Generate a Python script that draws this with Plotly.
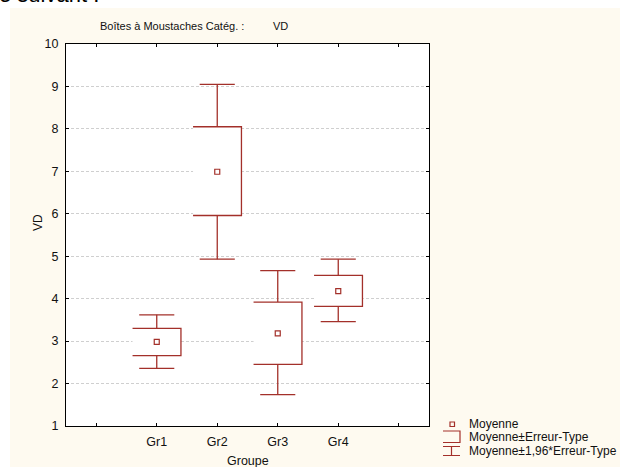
import plotly.graph_objects as go

# ---- data ----
groups = ["Gr1", "Gr2", "Gr3", "Gr4"]
group_pos = [1, 2, 3, 4]
tick_vals = [0, 1, 2, 3, 4, 5]
tick_text = ["", "Gr1", "Gr2", "Gr3", "Gr4", ""]
means = [2.98, 6.99, 3.18, 4.18]
se_upper = [3.30, 8.05, 3.92, 4.55]
se_lower = [2.66, 5.96, 2.45, 3.82]
ci_upper = [3.62, 9.05, 4.66, 4.93]
ci_lower = [2.36, 4.93, 1.74, 3.46]
y_ticks = [1, 2, 3, 4, 5, 6, 7, 8, 9, 10]

RED = "#A3302A"
CREAM = "#FEFAF0"
FONT = "Liberation Sans, Arial, sans-serif"
W, H = 620, 467
L, R, T, B = 66, 429, 44, 426  # plot area in pixels

def px(x):
    return (x - L) / (R - L)

def py(y):
    return (B - y) / (B - T)

box_hw = 0.40
cap_hw = 0.29

fig = go.Figure()

# white fills for boxes (hide gridlines)
for xc, top, bot in zip(group_pos, se_upper, se_lower):
    fig.add_trace(go.Scatter(
        x=[xc - box_hw, xc + box_hw, xc + box_hw, xc - box_hw, xc - box_hw],
        y=[top, top, bot, bot, top], mode="lines", fill="toself",
        fillcolor="white", line=dict(width=0), hoverinfo="skip", showlegend=False))

# box outlines open on the left, whiskers & caps
for xc, top, bot, hi, lo in zip(group_pos, se_upper, se_lower, ci_upper, ci_lower):
    fig.add_trace(go.Scatter(
        x=[xc - box_hw, xc + box_hw, xc + box_hw, xc - box_hw],
        y=[top, top, bot, bot], mode="lines",
        line=dict(color=RED, width=1.3), showlegend=False))
    fig.add_trace(go.Scatter(
        x=[xc, xc, None, xc - cap_hw, xc + cap_hw, None,
           xc, xc, None, xc - cap_hw, xc + cap_hw],
        y=[top, hi, None, hi, hi, None, bot, lo, None, lo, lo],
        mode="lines", line=dict(color=RED, width=1.3), showlegend=False))

# means
fig.add_trace(go.Scatter(
    x=group_pos, y=means, mode="markers",
    marker=dict(symbol="square-open", size=5, color=RED, line=dict(width=1.2, color=RED)),
    showlegend=False))

shapes = []
# white page strips around the cream panel (top and left)
shapes.append(dict(type="rect", xref="paper", yref="paper",
                   x0=px(-5), x1=px(W + 5), y0=py(8), y1=py(-5),
                   fillcolor="white", line=dict(width=0), layer="below"))
shapes.append(dict(type="rect", xref="paper", yref="paper",
                   x0=px(-5), x1=px(10), y0=py(H + 5), y1=py(-5),
                   fillcolor="white", line=dict(width=0), layer="below"))

# legend symbols
shapes.append(dict(type="rect", xref="paper", yref="paper",
                   x0=px(450), x1=px(454.5), y0=py(426.5), y1=py(422),
                   line=dict(color=RED, width=1.2), fillcolor="rgba(0,0,0,0)"))
shapes.append(dict(type="path", xref="paper", yref="paper",
                   path=f"M {px(443)},{py(431)} L {px(460)},{py(431)} L {px(460)},{py(442.5)} L {px(443)},{py(442.5)}",
                   line=dict(color=RED, width=1.2)))
shapes.append(dict(type="path", xref="paper", yref="paper",
                   path=(f"M {px(443)},{py(446.5)} L {px(460)},{py(446.5)} "
                         f"M {px(451.5)},{py(446.5)} L {px(451.5)},{py(455.5)} "
                         f"M {px(443)},{py(455.5)} L {px(460)},{py(455.5)}"),
                   line=dict(color=RED, width=1.2)))

annotations = []
def ann(text, x, y, size=11, xanchor="left", yanchor="middle", angle=0, color="#111111"):
    annotations.append(dict(text=text, x=px(x), y=py(y), xref="paper", yref="paper",
                            showarrow=False, xanchor=xanchor, yanchor=yanchor,
                            textangle=angle, font=dict(family=FONT, size=size, color=color)))

ann("e suivant :", -3, 9, size=22, yanchor="bottom", color="#000000")
ann("Boîtes à Moustaches Catég. :", 98, 26)
ann("VD", 271, 26)
ann("VD", 38, 223, size=12, xanchor="center", angle=-90)
ann("Groupe", 248, 461, size=12.5, xanchor="center")
ann("Moyenne", 467, 424, size=12)
ann("Moyenne±Erreur-Type", 467, 437, size=12)
ann("Moyenne±1,96*Erreur-Type", 467, 451, size=12)

fig.update_layout(
    width=W, height=H,
    margin=dict(l=L, r=W - R, t=T, b=H - B, pad=0),
    paper_bgcolor=CREAM, plot_bgcolor="white",
    shapes=shapes, annotations=annotations, showlegend=False,
    font=dict(family=FONT, size=11, color="#111111"),
)
fig.update_xaxes(
    range=[-0.5, 5.5], tickvals=tick_vals, ticktext=tick_text,
    showgrid=False, zeroline=False, showline=True, linecolor="black", linewidth=1,
    mirror="ticks", ticks="inside", ticklen=3, tickcolor="black",
    ticklabelstandoff=4, tickfont=dict(size=12.5))
fig.update_yaxes(
    range=[1, 10], tickvals=y_ticks,
    showgrid=True, gridcolor="#CFCFCF", griddash="3px,2px", gridwidth=1,
    zeroline=False, showline=True, linecolor="black", linewidth=1,
    mirror="ticks", ticks="inside", ticklen=3, tickcolor="black",
    ticklabelstandoff=4, tickfont=dict(size=12.5))

fig.write_html("out.html", config={"displayModeBar": False},
               post_script="document.body.style.margin='0';document.body.style.padding='0';")
